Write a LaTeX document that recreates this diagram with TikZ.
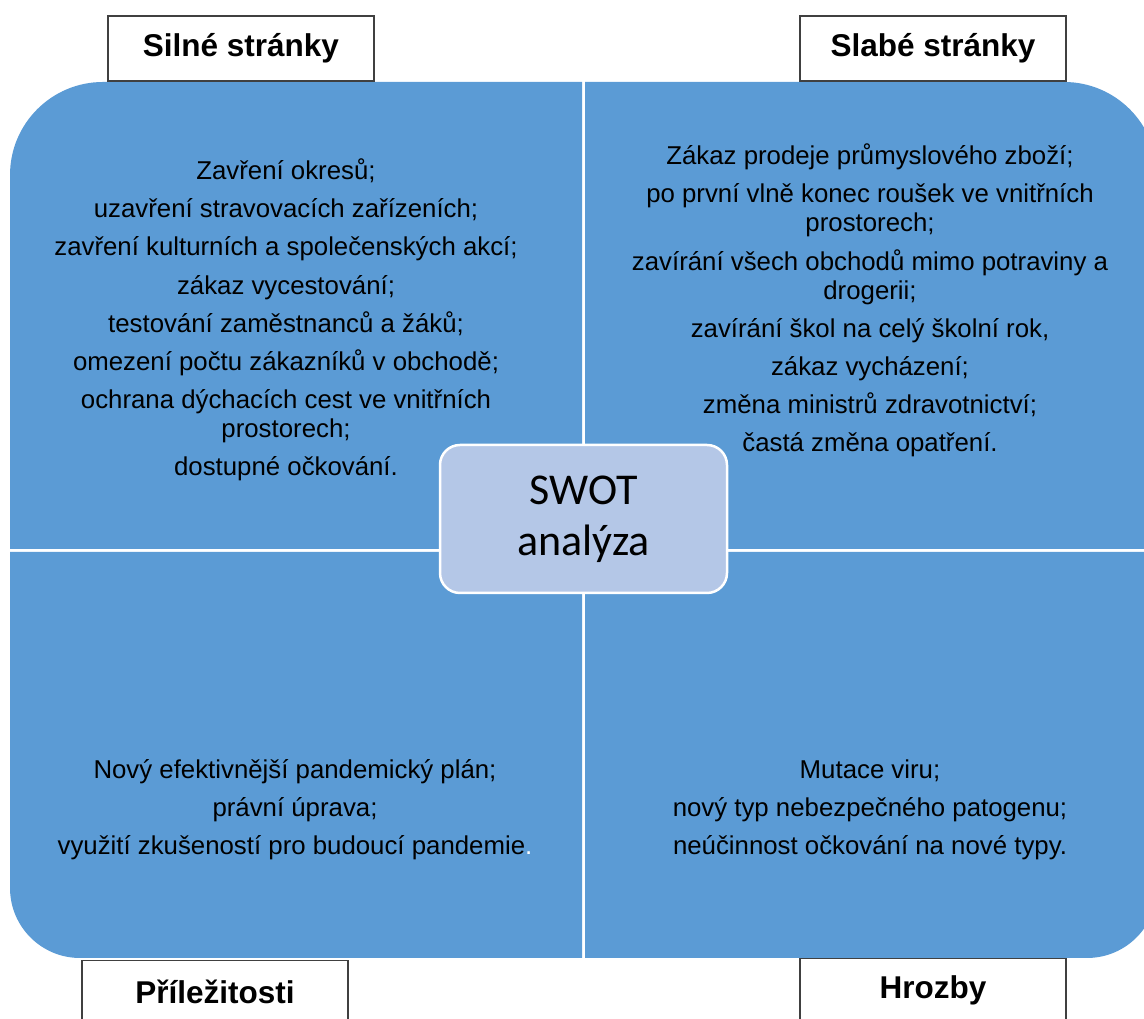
\documentclass[tikz,border=0pt]{standalone}
\usepackage{fontspec}
\setmainfont{Liberation Sans}
\newfontfamily\calibfont{Carlito}
\definecolor{quad}{HTML}{5B9BD5}
\definecolor{corefill}{HTML}{B4C7E7}
\definecolor{edgegray}{HTML}{404040}
\begin{document}
\begin{tikzpicture}[x=1pt,y=1pt,
  quadrant/.style={fill=quad},
  bodytext/.style={align=center, inner sep=0pt, text=black,
    font=\fontsize{25.8}{29.5}\selectfont},
  labelbox/.style={draw=edgegray, line width=1.2pt, fill=white,
    minimum width=266pt, minimum height=65pt, inner sep=0pt,
    font=\fontsize{31.5}{36}\selectfont\bfseries},
  corebox/.style={draw=white, line width=2.5pt, fill=corefill,
    rounded corners=20pt, minimum width=287pt, minimum height=148pt,
    align=center, inner sep=0pt,
    font=\calibfont\fontsize{44}{51}\selectfont}]
\useasboundingbox (0,0) rectangle (1144,1019);
\clip (0,0) rectangle (1144,1019);
% quadrants
\fill[quadrant] (582,470) -- (10,470) -- (10,844)
  arc[start angle=180, end angle=90, radius=93pt] -- (582,937) -- cycle;
\fill[quadrant] (585,470) -- (585,937) -- (1064,937)
  arc[start angle=90, end angle=0, radius=93pt] -- (1157,470) -- cycle;
\fill[quadrant] (582,467) -- (10,467) -- (10,131)
  arc[start angle=180, end angle=270, radius=70pt] -- (582,61) -- cycle;
\fill[quadrant] (585,467) -- (1157,467) -- (1157,131)
  arc[start angle=0, end angle=-90, radius=70pt] -- (585,61) -- cycle;
% label boxes
\node[labelbox] (silne) at (241,970.5) {Silné stránky};
\node[labelbox] (slabe) at (933,970.5) {Slabé stránky};
\node[labelbox, minimum height=62pt, anchor=north] (prilez) at (215,59) {Příležitosti};
\node[labelbox, minimum height=64pt, anchor=north] (hrozby) at (933,61) {Hrozby};
% texts (base anchor = baseline of last line)
\node[bodytext, anchor=base] (strong) at (286,543) {Zavření okresů;\\[8.6pt]
uzavření stravovacích zařízeních;\\[8.6pt]
zavření kulturních a společenských akcí;\\[8.6pt]
zákaz vycestování;\\[8.6pt]
testování zaměstnanců a žáků;\\[8.6pt]
omezení počtu zákazníků v obchodě;\\[8.6pt]
ochrana dýchacích cest ve vnitřních\\
prostorech;\\[8.6pt]
dostupné očkování.};
\node[bodytext, anchor=base] (weak) at (870,567) {Zákaz prodeje průmyslového zboží;\\[8.6pt]
po první vlně konec roušek ve vnitřních\\
prostorech;\\[8.6pt]
zavírání všech obchodů mimo potraviny a\\
drogerii;\\[8.6pt]
zavírání škol na celý školní rok,\\[8.6pt]
zákaz vycházení;\\[8.6pt]
změna ministrů zdravotnictví;\\[8.6pt]
častá změna opatření.};
\node[bodytext, anchor=base] (opport) at (295,164) {Nový efektivnější pandemický plán;\\[8.6pt]
právní úprava;\\[8.6pt]
využití zkušeností pro budoucí pandemie{\color{white}.}};
\node[bodytext, anchor=base] (threat) at (870,164) {Mutace viru;\\[8.6pt]
nový typ nebezpečného patogenu;\\[8.6pt]
neúčinnost očkování na nové typy.};
% centre
\node[corebox] (swot) at (583.5,500) {SWOT\\analýza};
\end{tikzpicture}
\end{document}
